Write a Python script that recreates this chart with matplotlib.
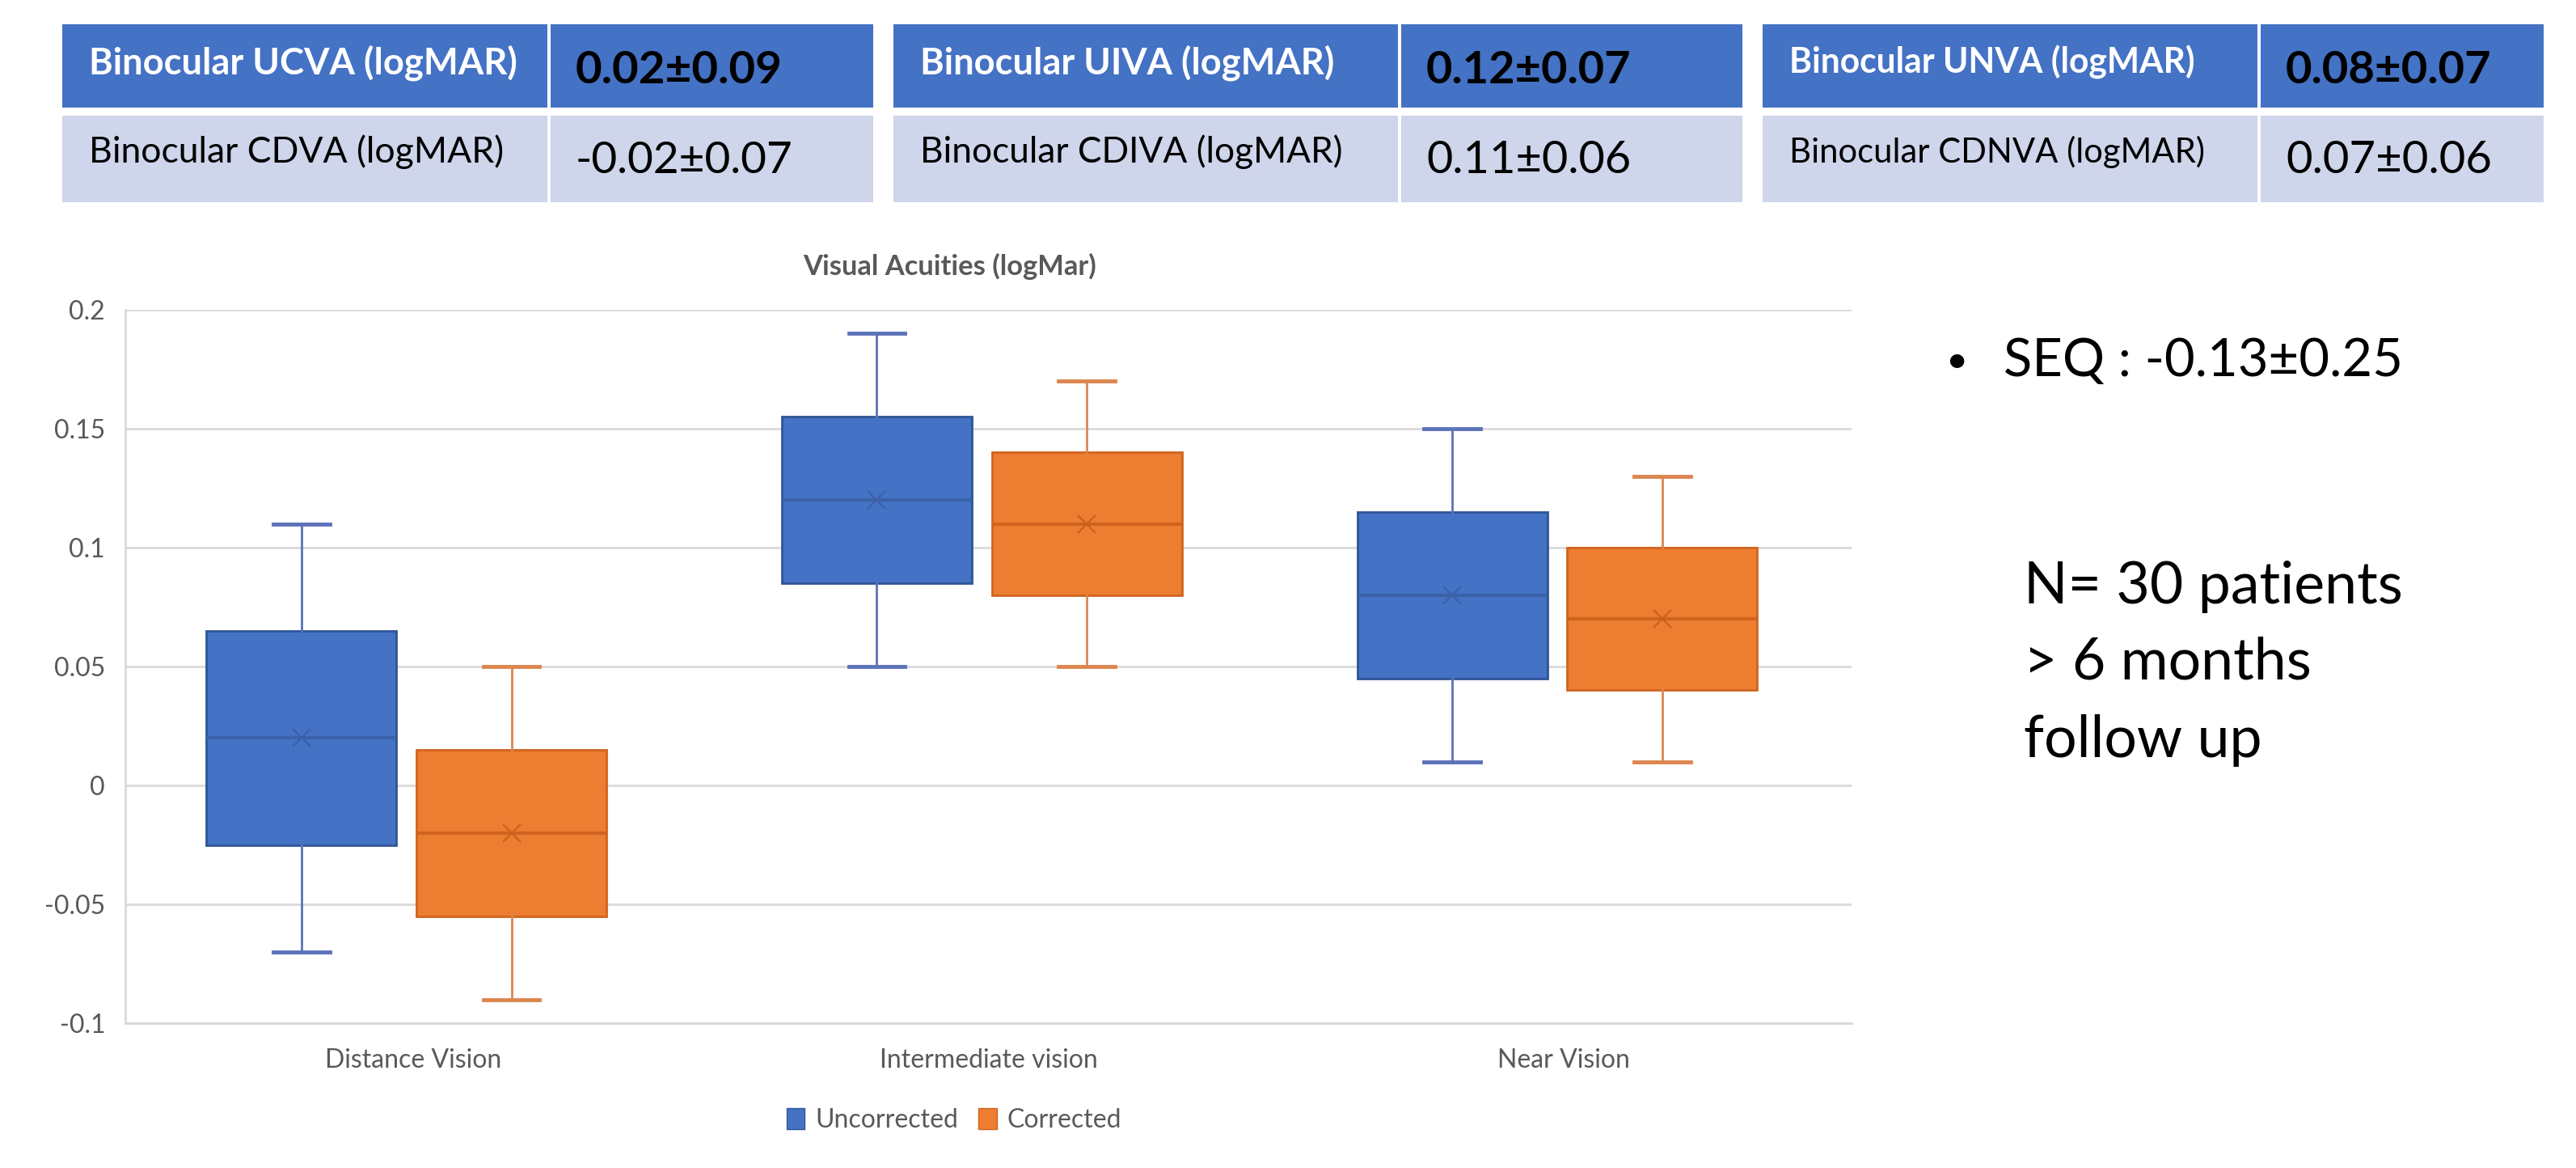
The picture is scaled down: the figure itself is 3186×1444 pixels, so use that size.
import numpy as np
import matplotlib
matplotlib.use('Agg')
import matplotlib.pyplot as plt
from matplotlib.patches import Rectangle, Patch

plt.rcParams['font.family'] = ['Lato', 'DejaVu Sans']

# summary table at the top
head_labels = ['Binocular UCVA (logMAR)', 'Binocular UIVA (logMAR)', 'Binocular UNVA (logMAR)']
head_values = ['0.02±0.09', '0.12±0.07', '0.08±0.07']
row_labels = ['Binocular CDVA (logMAR)', 'Binocular CDIVA (logMAR)', 'Binocular CDNVA (logMAR)']
row_values = ['-0.02±0.07', '0.11±0.06', '0.07±0.06']

# box plot values (logMAR)
categories = ['Distance Vision', 'Intermediate vision', 'Near Vision']
series = ['Uncorrected', 'Corrected']
unc_lo = [-0.07, 0.05, 0.01]
unc_q1 = [-0.025, 0.085, 0.045]
unc_med = [0.02, 0.12, 0.08]
unc_q3 = [0.065, 0.155, 0.115]
unc_hi = [0.11, 0.19, 0.15]
unc_mean = [0.02, 0.12, 0.08]
cor_lo = [-0.09, 0.05, 0.01]
cor_q1 = [-0.055, 0.08, 0.04]
cor_med = [-0.02, 0.11, 0.07]
cor_q3 = [0.015, 0.14, 0.10]
cor_hi = [0.05, 0.17, 0.13]
cor_mean = [-0.02, 0.11, 0.07]

chart_title = 'Visual Acuities (logMar)'
seq_text = 'SEQ : -0.13±0.25'
info_lines = ['N= 30 patients', '> 6 months', 'follow up']

W, H = 3186, 1444
fig = plt.figure(figsize=(W / 100, H / 100), dpi=100)
r = fig.canvas.get_renderer()

# overlay axes in pixel coordinates for the tables and free text
over = fig.add_axes([0, 0, 1, 1])
over.set_xlim(0, W)
over.set_ylim(H, 0)
over.axis('off')


def fit(t, width):
    # scale the font so the text spans the wanted width in pixels
    w = t.get_window_extent(renderer=r).width
    t.set_fontsize(t.get_fontsize() * width / w)


blue, orange = '#4472C4', '#ED7D31'
light = '#CFD5EA'

tbl_left = [77, 1105, 2180]
tbl_split = [679, 1731, 2794]
tbl_right = [1080, 2155, 3146]
w_head_lab = [530, 512, 502]
w_head_val = [256, 253, 255]
w_row_lab = [512, 522, 512]
w_row_val = [270, 253, 255]

for i in range(3):
    L, S, R = tbl_left[i], tbl_split[i], tbl_right[i]
    over.add_patch(Rectangle((L, 30), S - 2 - L, 103, fc=blue, ec='none'))
    over.add_patch(Rectangle((S + 2, 30), R - S - 2, 103, fc=blue, ec='none'))
    over.add_patch(Rectangle((L, 143), S - 2 - L, 107, fc=light, ec='none'))
    over.add_patch(Rectangle((S + 2, 143), R - S - 2, 107, fc=light, ec='none'))
    t = over.text(L + 33, 91, head_labels[i], color='white', fontweight='bold', fontsize=30, va='baseline')
    fit(t, w_head_lab[i])
    t = over.text(S + 33, 103, head_values[i], color='black', fontweight='bold', fontsize=36, va='baseline')
    fit(t, w_head_val[i])
    t = over.text(L + 33, 201, row_labels[i], color='black', fontsize=30, va='baseline')
    fit(t, w_row_lab[i])
    t = over.text(S + 33, 214, row_values[i], color='black', fontsize=36, va='baseline')
    fit(t, w_row_val[i])

# chart title
t = over.text(1175, 329, chart_title, ha='center', va='center', fontweight='bold', color='#595959', fontsize=24)
fit(t, 363)

# right hand notes
over.text(2420, 447, '•', ha='center', va='center', fontsize=34, color='black')
t = over.text(2478, 465, seq_text, va='baseline', fontsize=36, color='black')
fit(t, 494)
t = over.text(2503, 746, info_lines[0], va='baseline', fontsize=50, color='black')
fit(t, 469)
fs = t.get_fontsize()
for k, y in zip(range(1, 3), [840, 936]):
    over.text(2503, y, info_lines[k], va='baseline', fontsize=fs, color='black')

# box chart
ax = fig.add_axes([155 / W, 1 - 1265 / H, (2290 - 155) / W, (1265 - 383) / H])
ax.set_xlim(-0.5, 2.5)
ax.set_ylim(-0.1, 0.2)
x = np.arange(len(categories))

stats_u = [dict(whislo=unc_lo[i], q1=unc_q1[i], med=unc_med[i], q3=unc_q3[i], whishi=unc_hi[i],
                mean=unc_mean[i], fliers=[]) for i in range(len(categories))]
stats_c = [dict(whislo=cor_lo[i], q1=cor_q1[i], med=cor_med[i], q3=cor_q3[i], whishi=cor_hi[i],
                mean=cor_mean[i], fliers=[]) for i in range(len(categories))]

ax.bxp(stats_u, positions=x - 0.194, widths=0.33, capwidths=0.098, patch_artist=True,
       showmeans=True, showfliers=False,
       boxprops=dict(facecolor=blue, edgecolor='#2F5597', lw=2),
       medianprops=dict(color='#3A62A8', lw=3),
       whiskerprops=dict(color='#5B73B8', lw=2),
       capprops=dict(color='#5B73B8', lw=3.5),
       meanprops=dict(marker='x', markeredgecolor='#3C5FA6', markersize=16, markeredgewidth=1.5))
ax.bxp(stats_c, positions=x + 0.171, widths=0.33, capwidths=0.098, patch_artist=True,
       showmeans=True, showfliers=False,
       boxprops=dict(facecolor=orange, edgecolor='#D0641E', lw=2),
       medianprops=dict(color='#D0641E', lw=3),
       whiskerprops=dict(color='#DC8650', lw=2),
       capprops=dict(color='#DC8650', lw=3.5),
       meanprops=dict(marker='x', markeredgecolor='#C9601C', markersize=16, markeredgewidth=1.5))

yt = np.arange(-0.1, 0.201, 0.05)
ax.set_yticks(yt)
ax.set_yticklabels(['{:g}'.format(round(v, 2) + 0.0) for v in yt])
ax.set_xticks(x)
ax.set_xticklabels(categories)
ax.grid(axis='y', color='#D9D9D9', lw=2)
ax.set_axisbelow(True)
for s in ['top', 'right']:
    ax.spines[s].set_visible(False)
for s in ['left', 'bottom']:
    ax.spines[s].set_color('#D9D9D9')
    ax.spines[s].set_linewidth(2)
ax.tick_params(axis='y', length=0, labelsize=23, labelcolor='#595959', pad=18)
ax.tick_params(axis='x', length=0, labelsize=23, labelcolor='#595959', pad=22)

handles = [Patch(fc=blue, ec='#2F5597'), Patch(fc=orange, ec='#D0641E')]
fig.legend(handles, series, loc='center', bbox_to_anchor=(1180 / W, 1 - 1385 / H), ncol=2,
           frameon=False, fontsize=23, handlelength=0.7, handleheight=0.85,
           handletextpad=0.4, columnspacing=0.8, labelcolor='#595959')

fig.savefig('out.png', dpi=100)
